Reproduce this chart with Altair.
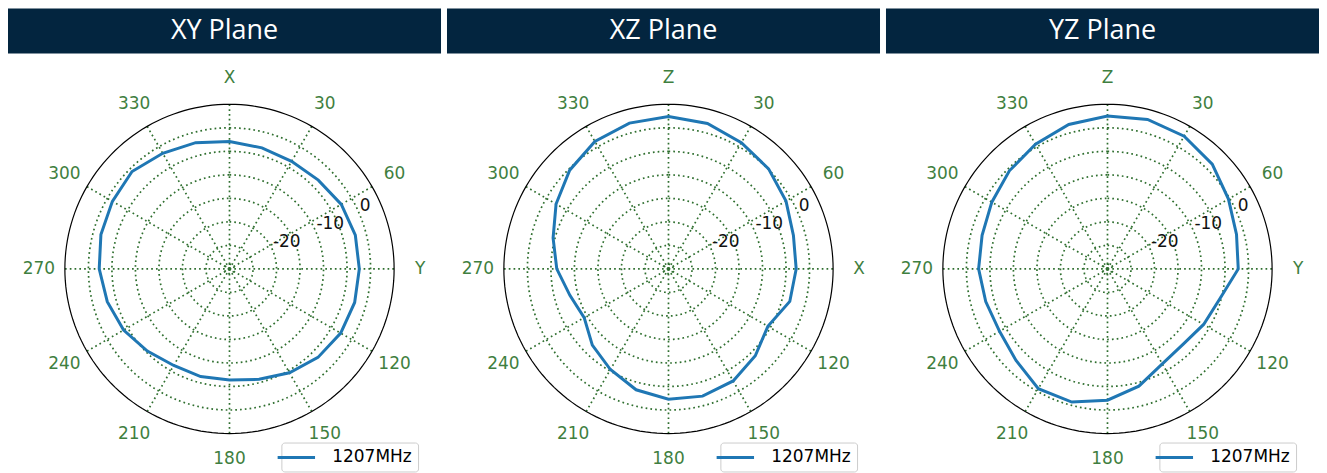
import altair as alt
import pandas as pd

# ---------------- data ----------------
ANGLES = list(range(0, 360, 15))
XY_DB = [-2.9, -3.35, -3.6, -3.3, -2.55, -2.3, -2.4, -2.45, -2.7, -3.4, -4.5, -5.7,
         -6.4, -6.3, -6.3, -5.3, -4.0, -3.1, -2.3, -1.7, -1.25, -0.7, -1.6, -2.2]
XZ_DB = [2.4, 2.0, 1.0, 0.1, -1.15, -2.5, -2.85, -3.3, -5.6, -3.9, -2.5, -2.0,
         -2.3, -3.4, -5.3, -7.1, -9.3, -8.3, -6.25, -4.6, -2.4, -0.3, 1.3, 2.1]
YZ_DB = [2.5, 2.9, 2.6, 1.5, -0.3, -1.6, -2.2, -5.3, -6.4, -7.3, -6.7, -4.2,
         -2.1, -0.7, -0.6, -2.5, -3.5, -3.2, -2.6, -2.4, -1.6, -0.5, 0.6, 1.8]
SERIES = "1207MHz"

PLANES = ["XY Plane", "XZ Plane", "YZ Plane"]
TOP_LABELS = ["X", "Z", "Z"]
RIGHT_LABELS = ["Y", "X", "Y"]
ANGLE_TICKS = list(range(0, 360, 30))
RING_DB = [-29, -25, -20, -15, -10, -5, 0]
RLABEL_DB = [0, -10, -20]
RLABEL_TEXT = ["0", "-10", "-20"]
RLABEL_ANGLE = 67.5

R_MIN, R_MAX = -30, 5

# ---------------- layout / style ----------------
R_PX = 165
LABEL_R_PX = 191
PANEL_W = 434
HEADER_H = 45
POLAR_H = 405
X_DOMAIN = [-222, 212]
Y_DOMAIN = [-(POLAR_H - 216), 216]
NAVY = "#03253f"
GREEN_TXT = "#3f7f3f"
GREEN_GRID = "#2f6f2f"
BLUE = "#1f77b4"

R_EXPR = f"(datum.db - ({R_MIN})) / ({R_MAX - R_MIN}) * {R_PX}"
X_EXPR = "datum.r * sin(datum.ang * PI / 180)"
Y_EXPR = "datum.r * cos(datum.ang * PI / 180)"

xs = alt.Scale(domain=X_DOMAIN, nice=False, zero=False)
ys = alt.Scale(domain=Y_DOMAIN, nice=False, zero=False)


def xy_enc():
    return dict(x=alt.X("x:Q", scale=xs, axis=None),
                y=alt.Y("y:Q", scale=ys, axis=None))


def circles(values, **mark_kw):
    return (
        alt.Chart(pd.DataFrame({"db": values}))
        .transform_calculate(ang="sequence(0, 362, 2)")
        .transform_flatten(["ang"])
        .transform_calculate(r=R_EXPR)
        .transform_calculate(x=X_EXPR, y=Y_EXPR)
        .mark_line(**mark_kw)
        .encode(detail="db:N", order="ang:Q", **xy_enc())
    )


def polar(db_values, top_label, right_label):
    rings = circles(RING_DB, color=GREEN_GRID, strokeWidth=1.7, strokeDash=[1.7, 3.1])
    outer = circles([R_MAX], color="black", strokeWidth=1.2)

    spokes = (
        alt.Chart(pd.DataFrame({"ang": ANGLE_TICKS}))
        .transform_calculate(
            x0="0", y0="0",
            x1=f"{R_PX} * sin(datum.ang * PI / 180)",
            y1=f"{R_PX} * cos(datum.ang * PI / 180)",
        )
        .mark_rule(color=GREEN_GRID, strokeWidth=1.7, strokeDash=[1.7, 3.1])
        .encode(x=alt.X("x0:Q", scale=xs, axis=None), y=alt.Y("y0:Q", scale=ys, axis=None),
                x2="x1:Q", y2="y1:Q")
    )

    df = pd.DataFrame({"ang": ANGLES, "db": db_values, "series": SERIES})
    line = (
        alt.Chart(df)
        .transform_calculate(r=R_EXPR)
        .transform_calculate(x=X_EXPR, y=Y_EXPR)
        .mark_line(strokeWidth=3, interpolate="linear-closed")
        .encode(
            order="ang:Q",
            color=alt.Color(
                "series:N",
                scale=alt.Scale(range=[BLUE]),
                legend=alt.Legend(
                    title=None, orient="none", legendX=274, legendY=390,
                    symbolType="M-2.5,0H2.5", symbolSize=225, symbolStrokeWidth=3,
                    labelFont="DejaVu Sans", labelFontSize=17, labelColor="black",
                    labelOffset=27, strokeColor="#cccccc", fillColor="white",
                    padding=6, cornerRadius=3,
                ),
            ),
            **xy_enc(),
        )
    )

    labels = [top_label if a == 0 else right_label if a == 90 else str(a) for a in ANGLE_TICKS]
    alabels = (
        alt.Chart(pd.DataFrame({"ang": ANGLE_TICKS, "lab": labels}))
        .transform_calculate(r=str(LABEL_R_PX))
        .transform_calculate(x=X_EXPR, y=Y_EXPR)
        .mark_text(font="DejaVu Sans", fontSize=17, color=GREEN_TXT,
                   align="center", baseline="middle")
        .encode(text="lab:N", **xy_enc())
    )

    rlabels = (
        alt.Chart(pd.DataFrame({"db": RLABEL_DB, "lab": RLABEL_TEXT}))
        .transform_calculate(ang=str(RLABEL_ANGLE))
        .transform_calculate(r=R_EXPR)
        .transform_calculate(x=X_EXPR, y=Y_EXPR)
        .mark_text(font="DejaVu Sans", fontSize=17, color="#111111",
                   align="left", baseline="bottom")
        .encode(text="lab:N", **xy_enc())
    )

    return alt.layer(rings, spokes, outer, line, alabels, rlabels).properties(
        width=PANEL_W, height=POLAR_H
    )


def header(title):
    return (
        alt.Chart(pd.DataFrame({"t": [title]}))
        .mark_text(font="Open Sans", fontSize=27, color="white",
                   align="center", baseline="middle")
        .encode(text="t:N")
        .properties(width=PANEL_W, height=HEADER_H,
                    view=alt.ViewBackground(fill=NAVY, stroke=None))
    )


panels = []
for title, top, right, vals in zip(PLANES, TOP_LABELS, RIGHT_LABELS, [XY_DB, XZ_DB, YZ_DB]):
    panels.append(
        alt.vconcat(header(title), polar(vals, top, right), spacing=0)
        .resolve_scale(color="independent")
        .resolve_legend(color="independent")
    )

chart = (
    alt.hconcat(*panels, spacing=6)
    .resolve_scale(color="independent")
    .resolve_legend(color="independent")
    .properties(padding=0, background="white")
    .configure_view(stroke=None)
)

chart.save("out.html", embed_options={"renderer": "svg", "actions": False})
